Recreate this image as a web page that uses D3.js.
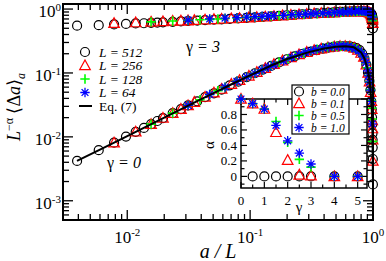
<!DOCTYPE html>
<html lang="en">
<head>
<meta charset="UTF-8">
<script src="https://d3js.org/d3.v7.min.js"></script>
<style>
  body { margin: 0; background: #fff; }
  text { font-family: "Liberation Serif", "Times New Roman", serif; fill: black; }
</style>
</head>
<body>
<div id="chart"></div>
<script>
// ---- data ----
const sizes = [512, 256, 128, 64];

// a values used for each system size (x = a / L)
const a512 = [2,3,4,5,6,7,8,9,10,12,14,16,19,22,26,30,35,41,48,56,65,76,88,102,118,136,156,178,200,222,244,266,288,310,332,354,376,398,418,436,452,466,478,488,496,500,503,505,507,508,509,510,511];
const a256 = [2,3,4,5,6,7,8,9,11,13,15,18,21,25,29,34,40,47,55,64,74,85,97,110,124,138,152,166,180,193,205,216,226,234,240,245,248,250,252,253,254,255];
const a128 = [2,3,4,5,6,7,8,10,12,14,16,19,22,26,30,35,40,45,50,55,60,65,70,75,80,85,90,95,100,104,108,112,115,118,120,122,124,125,126,127];
const a64  = [2,3,4,5,6,7,8,9,10,12,14,16,18,20,22,25,28,31,34,37,40,43,46,49,52,54,56,58,59,60,61,62,63];

// gamma = 0 branch
const g0_512 = [0.0042,0.0062,0.0081,0.0101,0.012,0.0138,0.0158,0.0177,0.0197,0.0235,0.0272,0.031,0.036,0.042,0.048,0.055,0.064,0.073,0.086,0.099,0.113,0.129,0.146,0.164,0.182,0.198,0.214,0.228,0.24,
                0.25,0.256,0.26,0.262,0.262,0.26,0.254,0.244,0.228,
                0.2,0.17,0.135,0.103,0.076,0.054,0.036,0.027,0.02,0.0158,0.0113,0.009,0.0068,0.0045,0.0018];
const g0_256 = [0.0081,0.012,0.0158,0.0197,0.0235,0.0272,0.031,0.035,0.042,0.049,0.056,0.067,0.077,0.09,0.103,0.119,0.137,0.156,0.175,0.195,
                0.212,0.227,0.24,0.25,0.258,0.262,0.262,0.258,0.247,0.23,0.205,0.178,0.135,0.1,0.073,0.05,0.036,0.027,0.018,0.0135,0.009,0.0042];
const g0_128 = [0.0158,0.0235,0.031,0.038,0.046,0.053,0.060,0.074,0.087,0.099,0.112,0.13,0.147,0.167,0.185,0.205,0.222,0.236,0.246,0.254,
                0.259,0.262,0.262,0.261,0.259,0.255,0.248,0.238,0.222,0.2,0.178,0.145,0.12,0.092,0.073,0.055,0.037,0.028,0.019,0.0085];
const g0_64  = [0.031,0.046,0.060,0.074,0.087,0.099,0.112,0.123,0.134,0.155,0.176,0.195,0.21,0.222,0.233,0.245,0.254,0.26,0.263,0.262,
                0.258,0.25,0.238,0.222,0.2,0.178,0.145,0.108,0.09,0.072,0.054,0.036,0.016];

// gamma = 3 branch
const g3_512 = [0.55,0.56,0.575,0.585,0.595,0.60,0.61,0.615,0.62,0.63,0.64,0.65,0.66,0.67,0.68,0.69,0.70,0.715,0.73,0.74,0.755,0.77,0.785,0.80,0.815,0.83,0.845,0.86,0.87,
                0.88,0.89,0.9,0.905,0.91,0.915,0.92,0.92,0.92,
                0.92,0.915,0.91,0.905,0.9,0.875,0.845,0.82,0.79,0.76,0.72,0.69,0.66,0.6,0.5];
const g3_256 = [0.60,0.615,0.63,0.64,0.65,0.655,0.66,0.67,0.68,0.69,0.70,0.71,0.72,0.735,0.745,0.76,0.775,0.79,0.805,0.82,
                0.835,0.85,0.86,0.87,0.88,0.89,0.9,0.91,0.915,0.92,0.92,0.92,0.91,0.895,0.875,0.85,0.82,0.79,0.75,0.72,0.68,0.6];
const g3_128 = [0.63,0.65,0.665,0.68,0.69,0.70,0.71,0.725,0.74,0.75,0.76,0.775,0.785,0.80,0.81,0.825,0.835,0.845,0.855,0.865,
                0.875,0.885,0.89,0.9,0.905,0.91,0.915,0.92,0.92,0.92,0.915,0.905,0.895,0.88,0.865,0.845,0.81,0.78,0.74,0.66];
const g3_64  = [0.67,0.70,0.72,0.735,0.75,0.76,0.77,0.78,0.79,0.80,0.815,0.825,0.835,0.845,0.855,0.865,0.875,0.885,0.895,0.905,
                0.91,0.92,0.925,0.93,0.93,0.93,0.925,0.915,0.905,0.895,0.875,0.845,0.75];

// Eq. (7)
const eqX = [0.0039,0.006,0.01,0.02,0.04,0.07,0.1,0.15,0.2,0.3,0.4,0.5,0.6,0.7,0.8,0.85,0.9,0.93,0.95,0.97,0.98,0.99,0.995,0.998];
const eqY = [0.0042,0.0063,0.0103,0.02,0.039,0.066,0.092,0.132,0.165,0.212,0.242,0.258,0.262,0.252,0.21,0.17,0.12,0.085,0.06,0.035,0.023,0.0115,0.0058,0.0023];

// inset: alpha vs gamma
const gamma0 = [0.5,1,1.5,2,2.5,3,4,5];
const alphaB00 = [0,0,0,0,0,0,0,0];
const gammaB = [0,0.5,1,1.5,2,2.5,3,4,5];
const alphaB01 = [1,0.94,0.87,0.57,0.21,0.02,0.01,0,0];
const alphaB05 = [1,0.94,0.87,0.71,0.44,0.22,0.12,0,0];
const alphaB10 = [1,0.94,0.87,0.66,0.46,0.30,0.16,0,0];

const xMajor = [0.01, 0.1, 1], xMajorExp = ["-2", "-1", "0"];
const yMajor = [1, 0.1, 0.01, 0.001], yMajorExp = ["0", "-1", "-2", "-3"];
const insetXTicks = [0,1,2,3,4,5];
const insetYTicks = [0,0.2,0.4,0.6,0.8];
const legendL = ["L = 512", "L = 256", "L = 128", "L = 64"];
const legendB = ["b = 0.0", "b = 0.1", "b = 0.5", "b = 1.0"];

const colors = ["black", "red", "#00ff00", "blue"];
const shapes = ["circle", "triangle", "plus", "star"];

// ---- drawing ----
const svg = d3.select("#chart").append("svg").attr("width", 386).attr("height", 261);

const x = d3.scaleLog().domain([0.003, 1]).range([63, 373]);
const y = d3.scaleLog().domain([0.0005, 1.2]).range([220, 4]);

function symbol(g, shape, px, py, color) {
    if (shape == "circle") {
        g.append("circle").attr("cx", px).attr("cy", py).attr("r", 4.5)
            .attr("fill", "none").attr("stroke", color).attr("stroke-width", 1.2);
    } else if (shape == "triangle") {
        g.append("path").attr("d", `M${px},${py-5.5}L${px+5.3},${py+4.2}L${px-5.3},${py+4.2}Z`)
            .attr("fill", "none").attr("stroke", color).attr("stroke-width", 1.2);
    } else if (shape == "plus") {
        g.append("path").attr("d", `M${px-4.7},${py}H${px+4.7}M${px},${py-4.7}V${py+4.7}`)
            .attr("stroke", color).attr("stroke-width", 1.6);
    } else {
        g.append("path").attr("d", `M${px-4.7},${py}H${px+4.7}M${px},${py-4.7}V${py+4.7}M${px-3.4},${py-3.4}L${px+3.4},${py+3.4}M${px-3.4},${py+3.4}L${px+3.4},${py-3.4}`)
            .attr("stroke", color).attr("stroke-width", 1.3);
    }
}

const aLists = [a512, a256, a128, a64];
const g0Lists = [g0_512, g0_256, g0_128, g0_64];
const g3Lists = [g3_512, g3_256, g3_128, g3_64];

const marks = svg.append("g");
sizes.forEach(function(L, i) {
    aLists[i].forEach(function(a, j) {
        symbol(marks, shapes[i], x(a / L), y(g3Lists[i][j]), colors[i]);
        symbol(marks, shapes[i], x(a / L), y(g0Lists[i][j]), colors[i]);
    });
});

svg.append("clipPath").attr("id", "clip").append("rect")
    .attr("x", 63).attr("y", 4).attr("width", 310).attr("height", 216);
svg.append("path")
    .datum(eqX.map((v, i) => [v, eqY[i]]))
    .attr("clip-path", "url(#clip)")
    .attr("d", d3.line().x(d => x(d[0])).y(d => y(d[1])))
    .attr("fill", "none").attr("stroke", "black").attr("stroke-width", 2);

// main frame and ticks (inward, on all four sides)
function logMinors(lo, hi) {
    const out = [];
    for (let e = Math.floor(Math.log10(lo)); e <= Math.ceil(Math.log10(hi)); e++)
        for (let m = 2; m <= 9; m++) {
            const v = m * Math.pow(10, e);
            if (v >= lo && v <= hi) out.push(v);
        }
    return out;
}
const ax = svg.append("g").attr("stroke", "black").attr("stroke-width", 1.3);
xMajor.forEach(v => {
    ax.append("line").attr("x1", x(v)).attr("x2", x(v)).attr("y1", 220).attr("y2", 210);
    ax.append("line").attr("x1", x(v)).attr("x2", x(v)).attr("y1", 4).attr("y2", 14);
});
logMinors(0.003, 1).forEach(v => {
    ax.append("line").attr("x1", x(v)).attr("x2", x(v)).attr("y1", 220).attr("y2", 214);
    ax.append("line").attr("x1", x(v)).attr("x2", x(v)).attr("y1", 4).attr("y2", 10);
});
yMajor.forEach(v => {
    ax.append("line").attr("y1", y(v)).attr("y2", y(v)).attr("x1", 63).attr("x2", 73);
    ax.append("line").attr("y1", y(v)).attr("y2", y(v)).attr("x1", 373).attr("x2", 363);
});
logMinors(0.0005, 1.2).forEach(v => {
    ax.append("line").attr("y1", y(v)).attr("y2", y(v)).attr("x1", 63).attr("x2", 69);
    ax.append("line").attr("y1", y(v)).attr("y2", y(v)).attr("x1", 373).attr("x2", 367);
});
svg.append("rect").attr("x", 63).attr("y", 4).attr("width", 310).attr("height", 216)
    .attr("fill", "none").attr("stroke", "black").attr("stroke-width", 2);

xMajor.forEach((v, i) => {
    const t = svg.append("text").attr("x", x(v)).attr("y", 243).attr("text-anchor", "middle").style("font-size", "17px");
    t.append("tspan").text("10");
    t.append("tspan").attr("dy", -7).style("font-size", "11px").text(xMajorExp[i]);
});
yMajor.forEach((v, i) => {
    const t = svg.append("text").attr("x", 61).attr("y", y(v) + 8).attr("text-anchor", "end").style("font-size", "17px");
    t.append("tspan").text("10");
    t.append("tspan").attr("dy", -6).style("font-size", "11px").text(yMajorExp[i]);
});

svg.append("text").attr("x", 218).attr("y", 258).attr("text-anchor", "middle")
    .style("font-size", "20px").style("font-style", "italic").text("a / L");

const yl = svg.append("text").attr("transform", "translate(20,107) rotate(-90)")
    .attr("text-anchor", "middle").style("font-size", "18px");
yl.append("tspan").style("font-style", "italic").text("L");
yl.append("tspan").attr("dy", -7).style("font-size", "12px").text("\u2212\u03b1");
yl.append("tspan").attr("dy", 7).text(" \u27e8\u0394");
yl.append("tspan").style("font-style", "italic").text("a");
yl.append("tspan").text("\u27e9");
yl.append("tspan").attr("dy", 5).style("font-size", "12px").style("font-style", "italic").text("a");

// gamma labels
const t3 = svg.append("text").attr("x", 186).attr("y", 52).style("font-size", "16px");
t3.append("tspan").text("\u03b3");
t3.append("tspan").style("font-style", "italic").text(" = 3");
const t0 = svg.append("text").attr("x", 107).attr("y", 168).style("font-size", "16px");
t0.append("tspan").text("\u03b3");
t0.append("tspan").style("font-style", "italic").text(" = 0");

// main legend
const lg = svg.append("g");
legendL.forEach((s, i) => {
    const ry = 52 + i * 13.5;
    symbol(lg, shapes[i], 85, ry, colors[i]);
    lg.append("text").attr("x", 99).attr("y", ry + 4.5).style("font-size", "13.5px").style("font-style", "italic").text(s);
});
lg.append("line").attr("x1", 79).attr("x2", 92).attr("y1", 106).attr("y2", 106).attr("stroke", "black").attr("stroke-width", 2);
lg.append("text").attr("x", 99).attr("y", 110.5).style("font-size", "13.5px").text("Eq. (7)");

// ---- inset ----
const ix = d3.scaleLinear().domain([0, 5.4]).range([241, 367]);
const iy = d3.scaleLinear().domain([-0.15, 1]).range([188, 99]);
const inset = svg.append("g");
inset.append("rect").attr("x", 241).attr("y", 99).attr("width", 126).attr("height", 89).attr("fill", "white");
const it = inset.append("g").attr("stroke", "black").attr("stroke-width", 1.2);
d3.range(0, 5.01, 0.5).forEach((v, k) => {
    const len = k % 2 == 0 ? 6 : 3.5;
    it.append("line").attr("x1", ix(v)).attr("x2", ix(v)).attr("y1", 188).attr("y2", 188 - len);
    it.append("line").attr("x1", ix(v)).attr("x2", ix(v)).attr("y1", 99).attr("y2", 99 + len);
});
d3.range(-0.1, 1.001, 0.1).forEach((v, k) => {
    const len = k % 2 == 1 ? 6 : 3.5;
    it.append("line").attr("y1", iy(v)).attr("y2", iy(v)).attr("x1", 241).attr("x2", 241 + len);
    it.append("line").attr("y1", iy(v)).attr("y2", iy(v)).attr("x1", 367).attr("x2", 367 - len);
});
inset.append("rect").attr("x", 241).attr("y", 99).attr("width", 126).attr("height", 89)
    .attr("fill", "none").attr("stroke", "black").attr("stroke-width", 1.5);
insetXTicks.forEach(v => inset.append("text").attr("x", ix(v)).attr("y", 205)
    .attr("text-anchor", "middle").style("font-size", "13px").text(v));
insetYTicks.forEach(v => inset.append("text").attr("x", 237).attr("y", iy(v) + 4.5)
    .attr("text-anchor", "end").style("font-size", "13px").text(v));
inset.append("text").attr("x", 299).attr("y", 212).attr("text-anchor", "middle").style("font-size", "15px").text("\u03b3");
inset.append("text").attr("transform", "translate(214,145) rotate(-90)").attr("text-anchor", "middle")
    .style("font-size", "15px").text("\u03b1");

gamma0.forEach((g, i) => symbol(inset, "circle", ix(g), iy(alphaB00[i]), colors[0]));
gammaB.forEach((g, i) => symbol(inset, "triangle", ix(g), iy(alphaB01[i]), colors[1]));
gammaB.forEach((g, i) => symbol(inset, "plus", ix(g), iy(alphaB05[i]), colors[2]));
gammaB.forEach((g, i) => symbol(inset, "star", ix(g), iy(alphaB10[i]), colors[3]));

// inset legend
const bl = svg.append("g");
bl.append("rect").attr("x", 292).attr("y", 85).attr("width", 57).attr("height", 49)
    .attr("fill", "white").attr("stroke", "black").attr("stroke-width", 1.2);
legendB.forEach((s, i) => {
    const ry = 91.5 + i * 12;
    symbol(bl, shapes[i], 299, ry, colors[i]);
    bl.append("text").attr("x", 311).attr("y", ry + 4).style("font-size", "11.5px").style("font-style", "italic").text(s);
});
</script>
</body>
</html>
